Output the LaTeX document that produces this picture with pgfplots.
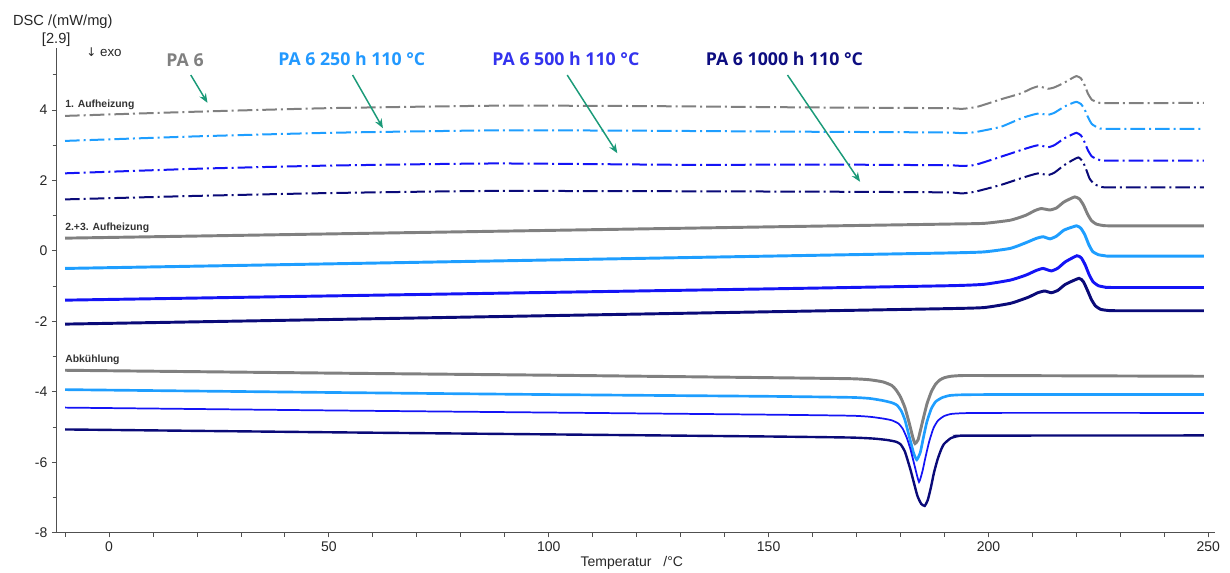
\documentclass[border=0pt]{standalone}
\usepackage{pgfplots}
\pgfplotsset{compat=1.18}
\usepackage{fontspec}
\setmainfont{Liberation Sans}
\newfontfamily\osans{Open Sans}
\newfontfamily\dejavu{DejaVu Sans}
\usetikzlibrary{arrows.meta}
\definecolor{cgray}{RGB}{128,128,128}
\definecolor{clb}{RGB}{30,158,255}
\definecolor{cbl}{RGB}{20,20,245}
\definecolor{cnv}{RGB}{10,10,120}
\definecolor{carr}{RGB}{26,154,120}
\definecolor{caxis}{RGB}{80,80,80}
\definecolor{tlb}{RGB}{34,153,255}
\definecolor{tbl}{RGB}{51,51,238}
\definecolor{tnv}{RGB}{13,13,128}
\begin{document}
\begin{tikzpicture}
\useasboundingbox (-42.5pt,-29.5pt) rectangle (880pt,399.5pt);
\begin{axis}[
  at={(0,0)}, anchor=south west,
  scale only axis, width=868.7pt, height=363.3pt,
  xmin=-11.9, xmax=251.5, ymin=-8, ymax=5.75,
  axis x line*=bottom, axis y line*=left,
  axis line style={caxis, line width=0.8pt},
  xtick={0,50,...,250}, ytick={-8,-6,...,4},
  minor xtick={-10,0,...,250}, minor ytick={-7,-5,...,5},
  tick align=outside, major tick length=3.5pt, minor tick length=3pt,
  tick style={caxis, line width=0.6pt},
  every tick label/.append style={font=\fontsize{10.5}{12}\selectfont, text=black!85},
  /pgf/number format/assume math mode=true,
  clip=false,
  every axis plot/.append style={smooth, tension=0.3},
  h1/.style={line width=1.5pt, dash pattern=on 11pt off 3pt on 1.5pt off 3pt},
  h2/.style={line width=2.2pt},
]
% 1. Aufheizung
\addplot[h1, cgray] coordinates {(-10,3.83) (20,3.95) (50,4.05) (88,4.12) (120,4.11) (160,4.07) (190,4.05) (194,4.03) (197.5,4.09) (202.8,4.30) (207.4,4.47) (210,4.62) (211.5,4.67) (213.5,4.60) (215,4.64) (217.2,4.77) (219,4.90) (220,4.96) (221,4.90) (221.8,4.72) (222.6,4.47) (223.5,4.29) (225,4.21) (227,4.19) (249,4.20)};
\addplot[h1, clb] coordinates {(-10,3.12) (20,3.25) (50,3.35) (88,3.42) (120,3.41) (160,3.38) (190,3.36) (194,3.34) (197,3.37) (202.8,3.52) (207.4,3.76) (210,3.86) (211.5,3.90) (213.5,3.86) (215,3.92) (217.2,4.09) (219,4.19) (220,4.23) (221,4.17) (221.8,4.03) (222.6,3.80) (223.5,3.60) (225,3.49) (227,3.46) (249,3.46)};
\addplot[h1, cbl] coordinates {(-10,2.20) (20,2.33) (50,2.42) (88,2.48) (132,2.44) (160,2.45) (190,2.43) (194,2.41) (197,2.44) (202.8,2.67) (207.4,2.86) (210,2.96) (211.5,3.00) (213.5,2.94) (215,3.00) (217.2,3.19) (219,3.30) (220,3.35) (221,3.28) (221.8,3.10) (222.6,2.86) (223.5,2.68) (225,2.59) (227,2.56) (249,2.56)};
\addplot[h1, cnv] coordinates {(-10,1.46) (20,1.56) (50,1.64) (88,1.70) (160,1.68) (190,1.66) (194,1.63) (197,1.68) (202.8,1.87) (207.4,2.06) (210,2.16) (211.5,2.20) (213.5,2.15) (215,2.22) (217.2,2.43) (219.2,2.58) (220.5,2.65) (221.5,2.52) (222.3,2.28) (223,2.05) (224,1.90) (225.5,1.82) (227.5,1.80) (249,1.80)};
% 2.+3. Aufheizung
\addplot[h2, cgray] coordinates {(-10,0.36) (50,0.48) (100,0.58) (150,0.68) (191,0.76) (199,0.78) (205,0.87) (208.5,1.01) (210.5,1.14) (212,1.20) (214,1.16) (215.5,1.22) (217.2,1.39) (219.6,1.53) (220.7,1.47) (221.6,1.30) (222.5,1.05) (223.4,0.86) (224.5,0.76) (226,0.72) (228,0.71) (249,0.71)};
\addplot[h2, clb] coordinates {(-10,-0.50) (50,-0.37) (100,-0.26) (150,-0.15) (191,-0.06) (199,-0.03) (205,0.07) (208.5,0.23) (210.8,0.35) (212.4,0.40) (214,0.34) (215.5,0.42) (217.2,0.59) (220,0.71) (221,0.64) (221.9,0.46) (222.8,0.18) (223.7,-0.02) (225,-0.11) (226.5,-0.14) (228,-0.15) (249,-0.15)};
\addplot[h2, cbl] coordinates {(-10,-1.40) (50,-1.28) (100,-1.18) (150,-1.08) (191,-0.99) (199,-0.95) (205,-0.83) (208.5,-0.69) (210.8,-0.56) (212.4,-0.50) (214.3,-0.57) (215.8,-0.49) (217.5,-0.31) (220.1,-0.14) (221.1,-0.20) (222,-0.40) (222.9,-0.68) (223.8,-0.88) (225,-0.99) (226.5,-1.03) (228,-1.04) (249,-1.04)};
\addplot[h2, cnv] coordinates {(-10,-2.08) (50,-1.95) (100,-1.84) (150,-1.73) (191,-1.64) (199,-1.61) (205,-1.49) (209,-1.32) (211.2,-1.19) (212.8,-1.14) (214.3,-1.19) (215.8,-1.12) (217.5,-0.95) (220.6,-0.78) (221.6,-0.88) (222.5,-1.12) (223.4,-1.38) (224.3,-1.56) (225.5,-1.66) (227,-1.69) (229,-1.70) (249,-1.70)};
% Abkuehlung
\addplot[line width=2.2pt, cgray] coordinates {(-10,-3.39) (50,-3.47) (100,-3.53) (150,-3.60) (168.7,-3.63) (173,-3.66) (176,-3.72) (178,-3.82) (179,-3.95) (180,-4.15) (181,-4.45) (182,-4.9) (182.8,-5.3) (183.3,-5.47) (184,-5.36) (185,-4.85) (186,-4.35) (187,-4.0) (188,-3.78) (189,-3.66) (190,-3.60) (191.5,-3.56) (194,-3.54) (200,-3.54) (249,-3.56)};
\addplot[line width=2pt, clb] coordinates {(-10,-3.94) (50,-4.02) (100,-4.08) (150,-4.13) (168.7,-4.16) (173,-4.19) (176,-4.25) (178,-4.31) (179.2,-4.38) (180.2,-4.55) (181,-4.80) (182,-5.28) (183,-5.75) (183.7,-5.93) (184.5,-5.72) (185.2,-5.30) (186,-4.85) (187,-4.48) (188,-4.28) (189.4,-4.17) (191,-4.11) (193,-4.09) (200,-4.08) (249,-4.08)};
\addplot[line width=1.3pt, cbl] coordinates {(-10,-4.45) (50,-4.53) (100,-4.59) (150,-4.65) (168.7,-4.68) (173,-4.71) (176,-4.76) (178,-4.81) (179.5,-4.90) (180.5,-5.05) (181.4,-5.30) (182.3,-5.65) (183.3,-6.15) (184.2,-6.56) (185,-6.25) (185.6,-5.90) (186.5,-5.42) (187.5,-5.03) (188.5,-4.82) (189.9,-4.69) (191.5,-4.63) (194,-4.61) (200,-4.60) (249,-4.60)};
\addplot[line width=1.8pt, cnv] coordinates {(-10,-5.07) (50,-5.15) (100,-5.21) (150,-5.27) (168.7,-5.30) (174,-5.33) (177,-5.37) (179,-5.42) (180,-5.49) (181,-5.70) (182.3,-6.23) (183.8,-6.94) (184.7,-7.18) (185.5,-7.24) (186.2,-7.07) (186.9,-6.72) (187.6,-6.30) (188.4,-5.93) (189.2,-5.65) (189.9,-5.48) (191.4,-5.32) (193,-5.26) (196,-5.245) (249,-5.24)};
% labels
\node[font=\fontsize{7.8}{9}\selectfont\bfseries, text=black!80, anchor=west, inner sep=0pt] at (axis cs:-10,4.15) {1. Aufheizung};
\node[font=\fontsize{7.8}{9}\selectfont\bfseries, text=black!80, anchor=west, inner sep=0pt] at (axis cs:-10,0.64) {2.+3. Aufheizung};
\node[font=\fontsize{7.8}{9}\selectfont\bfseries, text=black!80, anchor=west, inner sep=0pt] at (axis cs:-10,-3.10) {Abkühlung};
\node[font=\osans\fontsize{13.3}{15}\selectfont\bfseries, text=cgray, inner sep=0pt] at (axis cs:17.3,5.42) {PA 6};
\node[font=\osans\fontsize{13.3}{15}\selectfont\bfseries, text=tlb, inner sep=0pt] at (axis cs:55.2,5.45) {PA 6 250 h 110 °C};
\node[font=\osans\fontsize{13.3}{15}\selectfont\bfseries, text=tbl, inner sep=0pt] at (axis cs:103.9,5.45) {PA 6 500 h 110 °C};
\node[font=\osans\fontsize{13.3}{15}\selectfont\bfseries, text=tnv, inner sep=0pt] at (axis cs:153.6,5.45) {PA 6 1000 h 110 °C};
\draw[carr, line width=1.1pt, -{Stealth[length=7pt,width=5.5pt]}] (axis cs:18.6,4.99) -- (axis cs:22.4,4.20);
\draw[carr, line width=1.1pt, -{Stealth[length=7pt,width=5.5pt]}] (axis cs:55.4,4.99) -- (axis cs:62.3,3.48);
\draw[carr, line width=1.1pt, -{Stealth[length=7pt,width=5.5pt]}] (axis cs:104.2,4.99) -- (axis cs:115.6,2.77);
\draw[carr, line width=1.1pt, -{Stealth[length=7pt,width=5.5pt]}] (axis cs:154.3,4.99) -- (axis cs:170.8,1.96);
\node[font=\fontsize{11}{13}\selectfont, text=black!85, inner sep=0pt] at (axis cs:-10.5,6.50) {DSC /(mW/mg)};
\node[font=\fontsize{11}{13}\selectfont, text=black!85, inner sep=0pt] at (axis cs:-12.0,5.99) {[2.9]};
\node[font=\fontsize{10}{12}\selectfont, text=black!85, anchor=west, inner sep=0pt] at (axis cs:-5.2,5.64) {{\dejavu\fontsize{9}{11}\selectfont ↓} exo};
\node[font=\fontsize{10.5}{12}\selectfont, text=black!85, inner sep=0pt] at (axis cs:118.9,-8.87) {Temperatur\hspace{9pt}/°C};
\end{axis}
\end{tikzpicture}
\end{document}
